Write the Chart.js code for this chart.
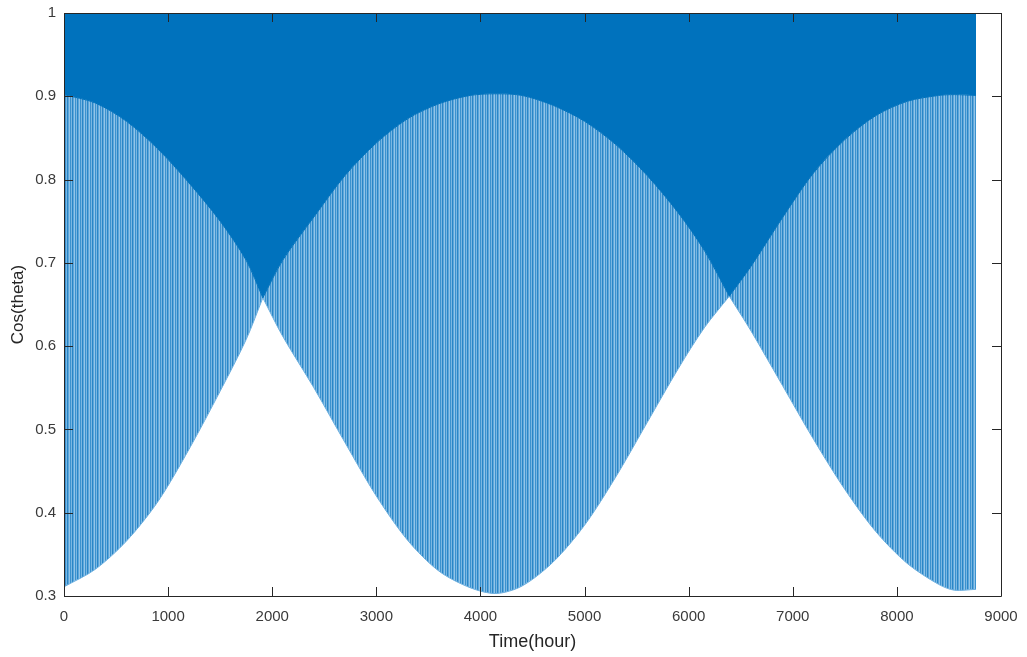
<!DOCTYPE html>
<html>
<head>
<meta charset="utf-8">
<script src="https://cdn.jsdelivr.net/npm/chart.js@4/dist/chart.umd.min.js"></script>
<style>
  body { margin: 0; background: #fff; }
  canvas { display: block; }
</style>
</head>
<body>
<canvas id="chart" width="1027" height="657"></canvas>
<script>
// hours where the envelopes were read off the picture
// (1910 and 6390 are the crossing cusps, listed twice so the curve keeps a sharp corner there)
const hours = [0, 300, 600, 900, 1200, 1500, 1750, 1910, 1910, 2100, 2400, 2700, 3000, 3300, 3600, 3900, 4150,
  4400, 4700, 5000, 5300, 5600, 5900, 6150, 6390, 6390, 6600, 6900, 7200, 7500, 7800, 8100, 8400, 8550, 8760];

// daily peak (top of the line)
const peakValues = [1, 1, 1, 1, 1, 1, 1, 1, 1, 1, 1, 1, 1, 1, 1, 1, 1,
  1, 1, 1, 1, 1, 1, 1, 1, 1, 1, 1, 1, 1, 1, 1, 1, 1, 1];

// lower edge of the solid dark band
const denseEdge = [0.902, 0.892, 0.870, 0.837, 0.796, 0.750, 0.703, 0.658, 0.658, 0.703, 0.755, 0.805, 0.844, 0.873, 0.891, 0.901, 0.903,
  0.901, 0.889, 0.870, 0.842, 0.805, 0.760, 0.715, 0.660, 0.660, 0.696, 0.754, 0.808, 0.848, 0.877, 0.894, 0.901, 0.902, 0.901];

// daily minimum (bottom of the striped band)
const minValues = [0.311, 0.332, 0.366, 0.413, 0.476, 0.546, 0.608, 0.658, 0.658, 0.612, 0.550, 0.484, 0.420, 0.367, 0.330, 0.310, 0.303,
  0.312, 0.341, 0.385, 0.443, 0.508, 0.573, 0.622, 0.660, 0.660, 0.618, 0.553, 0.488, 0.428, 0.377, 0.339, 0.314, 0.307, 0.308];

const xTicks = [0, 1000, 2000, 3000, 4000, 5000, 6000, 7000, 8000, 9000];
const yTicks = [0.3, 0.4, 0.5, 0.6, 0.7, 0.8, 0.9, 1];

const matlabBlue = '#0072BD';
const axisColor = '#262626';

function pts(ys) {
  return hours.map((h, i) => ({ x: h, y: ys[i] }));
}

// vertical stripes to look like the daily up/down strokes
function stripePattern() {
  const c = document.createElement('canvas');
  c.width = 5;
  c.height = 4;
  const g = c.getContext('2d');
  const cols = ['#3b92cf', '#7ab7e2', '#2a86c7', '#5ca6da', '#92c4e8'];
  cols.forEach((col, i) => {
    g.fillStyle = col;
    g.fillRect(i, 0, 1, 4);
  });
  return g.createPattern(c, 'repeat');
}

// box round the plot + inward ticks on all four sides (MATLAB look)
const boxPlugin = {
  id: 'box',
  afterDraw(chart) {
    const ctx = chart.ctx;
    const a = chart.chartArea;
    const xs = chart.scales.x;
    const ys = chart.scales.y;
    const len = 9;
    ctx.save();
    ctx.strokeStyle = axisColor;
    ctx.lineWidth = 1;
    ctx.beginPath();
    ctx.rect(Math.round(a.left) + 0.5, Math.round(a.top) + 0.5,
      Math.round(a.right - a.left), Math.round(a.bottom - a.top));
    xTicks.forEach(v => {
      const px = Math.round(xs.getPixelForValue(v)) + 0.5;
      ctx.moveTo(px, a.bottom);
      ctx.lineTo(px, a.bottom - len);
      ctx.moveTo(px, a.top);
      ctx.lineTo(px, a.top + len);
    });
    yTicks.forEach(v => {
      const py = Math.round(ys.getPixelForValue(v)) + 0.5;
      ctx.moveTo(a.left, py);
      ctx.lineTo(a.left + len, py);
      ctx.moveTo(a.right, py);
      ctx.lineTo(a.right - len, py);
    });
    ctx.stroke();
    ctx.restore();
  }
};

Chart.defaults.font.family = '"Liberation Sans", Arial, Helvetica, sans-serif';

const ctx = document.getElementById('chart').getContext('2d');
const chart = new Chart(ctx, {
  type: 'line',
  data: {
    datasets: [
      {
        label: 'peak',
        data: pts(peakValues),
        borderColor: matlabBlue,
        borderWidth: 1,
        pointRadius: 0,
        fill: false
      },
      {
        label: 'dense',
        data: pts(denseEdge),
        borderColor: matlabBlue,
        borderWidth: 1,
        backgroundColor: matlabBlue,
        pointRadius: 0,
        tension: 0.3,
        fill: '-1'
      },
      {
        label: 'min',
        data: pts(minValues),
        borderColor: '#6fb0df',
        borderWidth: 1,
        backgroundColor: stripePattern(),
        pointRadius: 0,
        tension: 0.3,
        fill: '-1'
      }
    ]
  },
  options: {
    responsive: false,
    animation: false,
    layout: { padding: { top: 13, right: 26, left: 0, bottom: 0 } },
    plugins: {
      legend: { display: false },
      tooltip: { enabled: false }
    },
    scales: {
      x: {
        type: 'linear',
        min: 0,
        max: 9000,
        afterBuildTicks: s => { s.ticks = xTicks.map(v => ({ value: v })); },
        afterFit: s => {
          s.height = 61;
          s.paddingLeft = 0;
          s.paddingRight = 0;
        },
        grid: { display: false, drawTicks: false },
        border: { display: false },
        ticks: {
          padding: 12,
          color: '#3a3a3a',
          font: { size: 15 },
          maxRotation: 0,
          autoSkip: false,
          callback: v => String(v)
        },
        title: {
          display: true,
          text: 'Time(hour)',
          color: '#262626',
          font: { size: 18 },
          padding: { top: 0, bottom: 4 }
        }
      },
      y: {
        min: 0.3,
        max: 1,
        afterBuildTicks: s => { s.ticks = yTicks.map(v => ({ value: v })); },
        afterFit: s => {
          s.width = 64;
          s.paddingTop = 0;
          s.paddingBottom = 0;
        },
        grid: { display: false, drawTicks: false },
        border: { display: false },
        ticks: {
          padding: 8,
          color: '#3a3a3a',
          font: { size: 15 },
          callback: v => String(Number(v.toFixed(1)))
        },
        title: {
          display: true,
          text: 'Cos(theta)',
          color: '#262626',
          font: { size: 17 },
          padding: { top: 8, bottom: 0 }
        }
      }
    }
  },
  plugins: [boxPlugin]
});
</script>
</body>
</html>
